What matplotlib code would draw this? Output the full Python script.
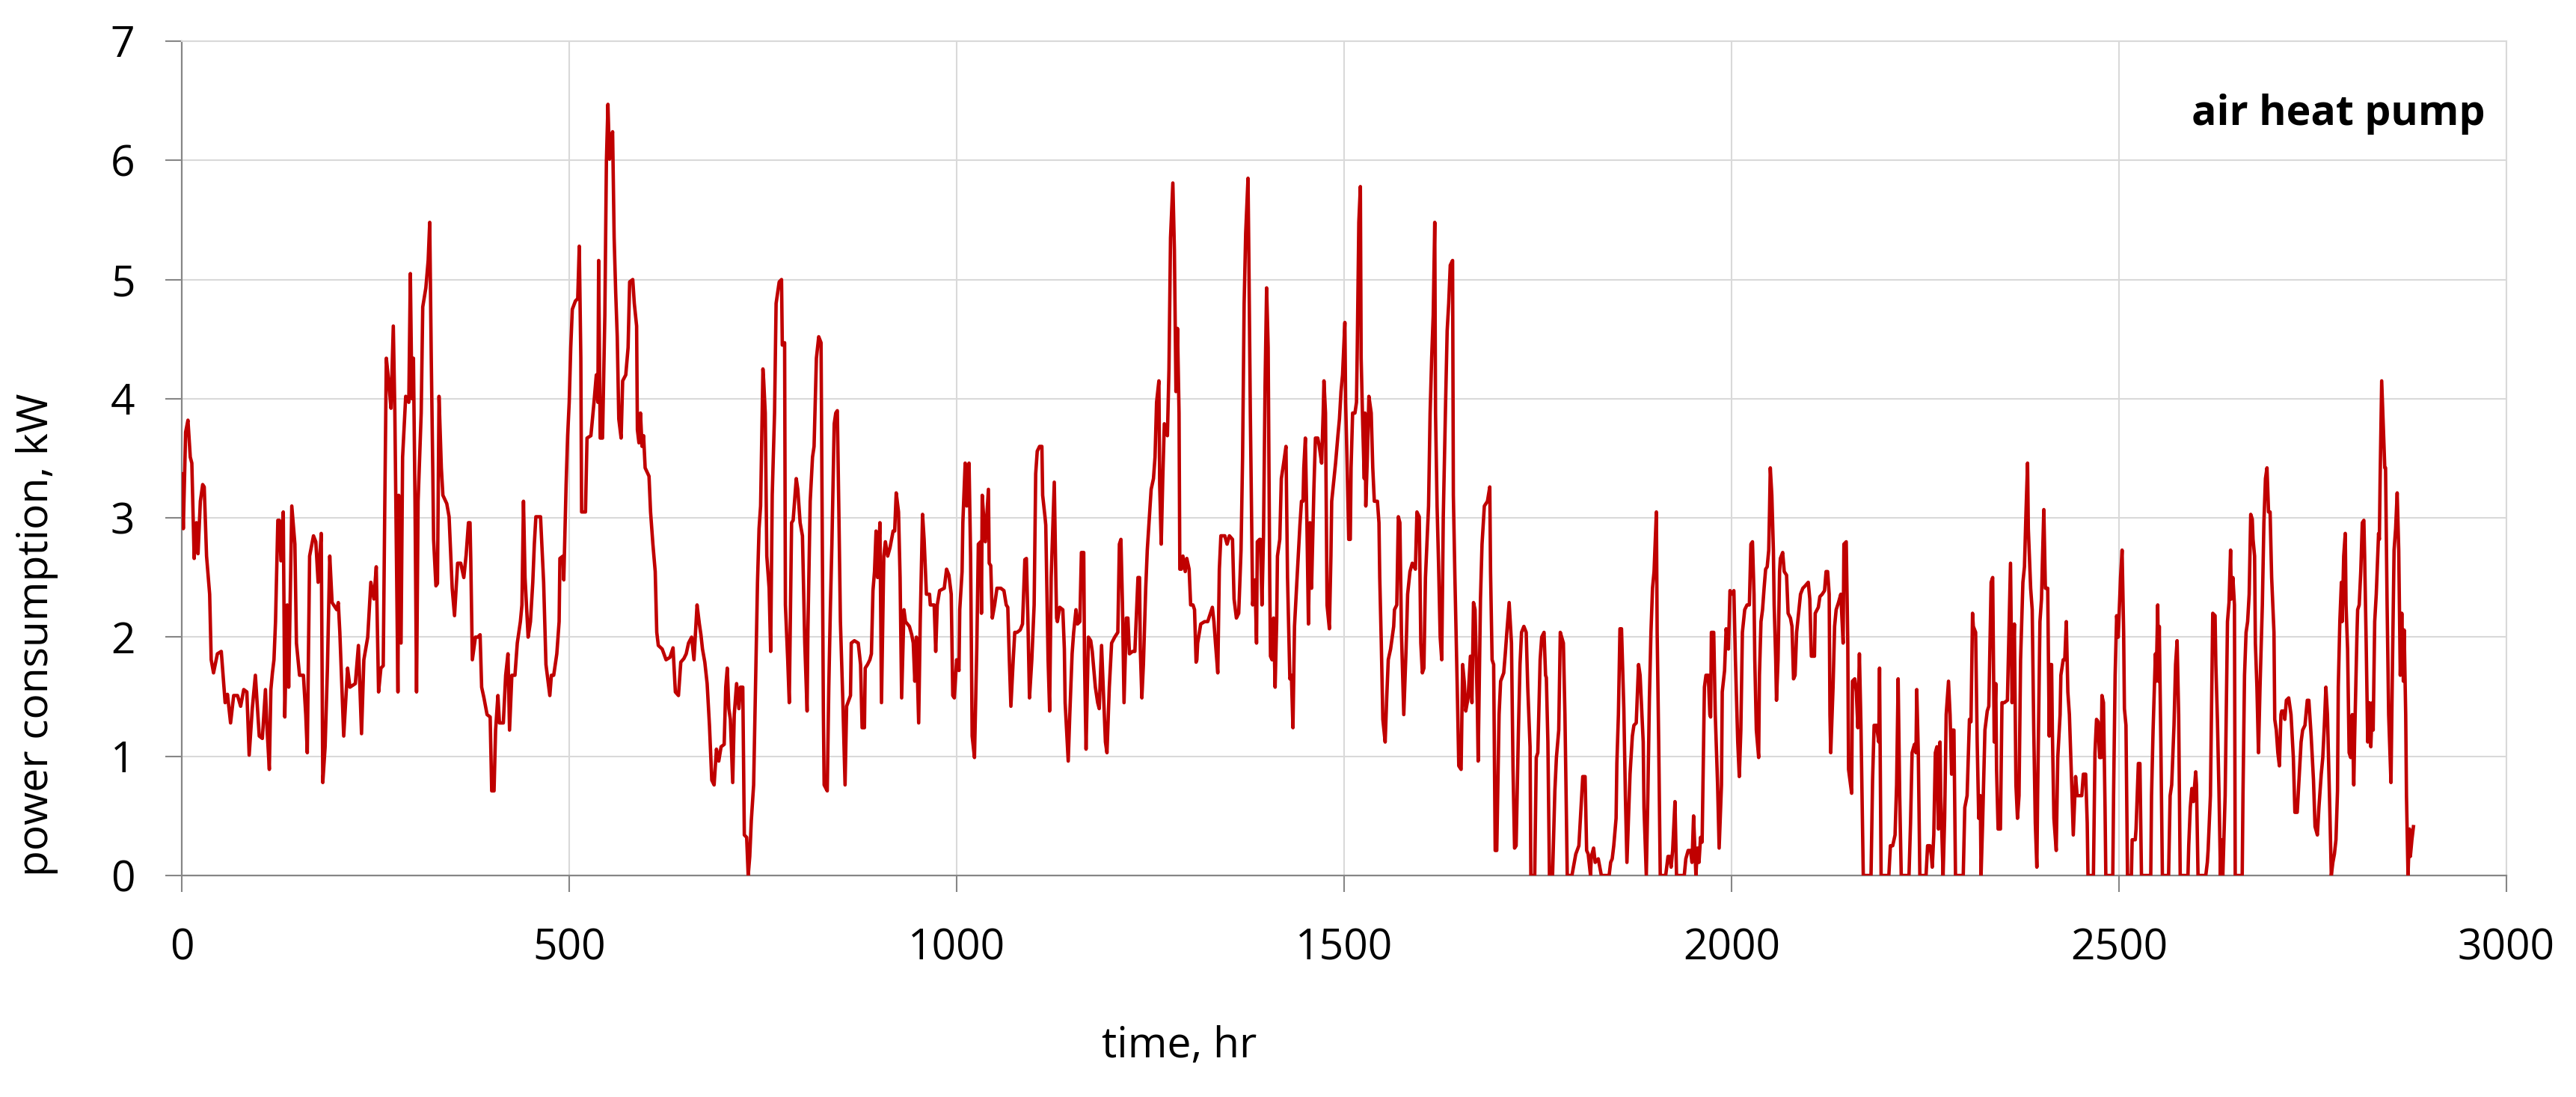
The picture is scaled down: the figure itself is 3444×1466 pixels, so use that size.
from matplotlib import pyplot as plt
import numpy as np

# hourly power readings: (hour, kW)
days_1_20 = [
    (0, 3.37), (2, 2.91), (5, 3.72), (8, 3.82), (11, 3.51), (13, 3.46), (16, 2.66), (19, 2.96),
    (21, 2.70), (24, 3.14), (27, 3.28), (29, 3.26), (32, 2.68), (36, 2.36), (38, 1.81), (41, 1.70),
    (46, 1.86), (51, 1.88), (56, 1.45), (59, 1.52), (63, 1.28), (67, 1.51), (72, 1.51), (76, 1.42),
    (80, 1.56), (84, 1.54), (87, 1.01), (91, 1.40), (95, 1.68), (100, 1.17), (104, 1.15), (108, 1.56),
    (110, 1.24), (113, 0.89), (115, 1.56), (117, 1.70), (119, 1.81), (121, 2.13), (124, 2.98),
    (126, 2.98), (128, 2.64), (131, 3.05), (133, 1.33), (136, 2.27), (138, 1.58), (142, 3.10),
    (146, 2.78), (148, 1.95), (152, 1.68), (157, 1.68), (160, 1.35), (162, 1.03), (165, 2.68),
    (170, 2.85), (173, 2.80), (176, 2.46), (180, 2.87), (182, 0.78), (185, 1.08), (188, 1.74),
    (191, 2.68), (194, 2.29), (200, 2.23), (202, 2.29), (204, 2.04), (209, 1.17), (214, 1.74),
    (217, 1.58), (224, 1.61), (228, 1.93), (232, 1.19), (235, 1.81), (240, 2.00), (244, 2.46),
    (248, 2.32), (251, 2.59), (254, 1.54), (257, 1.74), (260, 1.76), (262, 3.10), (264, 4.34),
    (267, 4.15), (270, 3.92), (271, 4.15), (273, 4.61), (275, 3.88), (279, 1.54), (280, 3.19),
    (283, 1.95), (285, 3.51), (289, 4.02), (293, 3.97), (295, 5.05), (297, 4.00), (299, 4.34),
    (301, 3.14), (303, 1.54), (305, 3.14), (309, 3.88), (311, 4.77), (315, 4.93), (318, 5.16),
    (320, 5.48), (322, 4.34), (324, 3.37), (325, 2.82), (328, 2.43), (330, 2.45), (332, 4.02),
    (335, 3.42), (337, 3.19), (342, 3.12), (345, 3.01), (349, 2.41), (352, 2.18), (356, 2.62),
    (360, 2.62), (364, 2.50), (367, 2.69), (370, 2.96), (372, 2.96), (373, 2.64), (375, 1.81),
    (379, 2.00), (382, 2.00), (385, 2.02), (387, 1.58), (390, 1.49), (394, 1.35), (398, 1.33),
    (400, 0.71), (403, 0.71), (405, 1.22), (408, 1.51), (410, 1.28), (415, 1.28), (418, 1.68),
    (421, 1.86), (423, 1.22), (426, 1.68), (430, 1.68), (433, 1.95), (437, 2.13), (439, 2.27),
    (441, 3.14), (443, 2.50), (447, 2.00), (450, 2.13), (453, 2.46), (455, 2.78), (457, 3.01),
    (463, 3.01), (467, 2.46), (470, 1.77), (475, 1.51), (477, 1.68), (480, 1.68), (484, 1.86),
    (487, 2.13), (488, 2.66), (492, 2.68), (493, 2.48), (496, 3.28), (498, 3.69),
]

days_21_41 = [
    (500, 3.97), (502, 4.43), (504, 4.75), (508, 4.82), (511, 4.84), (513, 5.28), (515, 4.34),
    (516, 3.05), (521, 3.05), (523, 3.67), (528, 3.69), (530, 3.83), (532, 3.97), (535, 4.20),
    (537, 3.97), (538, 5.16), (540, 3.67), (543, 3.67), (546, 4.70), (548, 5.99), (550, 6.47),
    (552, 6.01), (554, 6.17), (556, 6.24), (558, 5.35), (560, 4.89), (562, 4.52), (564, 3.83),
    (567, 3.67), (569, 4.15), (573, 4.20), (576, 4.43), (578, 4.98), (582, 5.00), (584, 4.80),
    (587, 4.61), (588, 3.74), (590, 3.63), (592, 3.88), (594, 3.60), (596, 3.69), (598, 3.42),
    (603, 3.35), (605, 3.05), (608, 2.78), (611, 2.55), (613, 2.04), (615, 1.93), (620, 1.90),
    (625, 1.81), (630, 1.83), (634, 1.91), (637, 1.54), (641, 1.51), (644, 1.79), (648, 1.82),
    (651, 1.86), (654, 1.95), (658, 2.00), (661, 1.81), (663, 2.04), (665, 2.27), (668, 2.11),
    (670, 2.02), (672, 1.90), (675, 1.79), (678, 1.61), (681, 1.26), (684, 0.80), (687, 0.76),
    (690, 1.06), (693, 0.96), (696, 1.08), (700, 1.10), (702, 1.58), (704, 1.74), (706, 1.40),
    (708, 1.31), (711, 0.78), (713, 1.35), (716, 1.61), (719, 1.40), (721, 1.58), (724, 1.58),
    (726, 0.34), (729, 0.32), (731, 0.00), (733, 0.16), (735, 0.46), (738, 0.76), (741, 1.77),
    (743, 2.46), (745, 2.91), (747, 3.10), (750, 4.25), (751, 4.15), (753, 3.88), (755, 2.68),
    (758, 2.41), (760, 1.88), (762, 3.19), (765, 3.88), (767, 4.80), (771, 4.98), (774, 5.00),
    (775, 4.45), (778, 4.47), (779, 2.27), (782, 1.81), (784, 1.45), (787, 2.96), (789, 2.98),
    (793, 3.33), (795, 3.24), (798, 2.96), (801, 2.85), (804, 1.95), (807, 1.38), (808, 2.04),
    (811, 3.14), (814, 3.51), (816, 3.60), (819, 4.34), (822, 4.52), (825, 4.47), (828, 1.38),
    (829, 0.76), (833, 0.71), (835, 1.58), (837, 2.23), (839, 2.78), (842, 3.79), (844, 3.88),
    (846, 3.90), (848, 3.05), (850, 2.13), (853, 1.49), (856, 0.76), (858, 1.42), (863, 1.51),
    (864, 1.95), (868, 1.97), (873, 1.95), (876, 1.77), (878, 1.24), (881, 1.24), (882, 1.74),
    (885, 1.77), (888, 1.81), (890, 1.86), (892, 2.39), (894, 2.55), (896, 2.89), (898, 2.50),
    (901, 2.96), (903, 1.45), (906, 2.68), (908, 2.80), (911, 2.68), (914, 2.75), (918, 2.89),
    (920, 2.89), (922, 3.21), (925, 3.05), (927, 2.50), (929, 1.49), (932, 2.23), (934, 2.13),
    (939, 2.09), (942, 2.02), (944, 1.95), (946, 1.63), (948, 2.00), (951, 1.28), (953, 2.13),
    (956, 3.03), (958, 2.82), (961, 2.36), (965, 2.36), (966, 2.27), (971, 2.27), (973, 1.88),
    (975, 2.27), (978, 2.39), (984, 2.41), (987, 2.57), (990, 2.52),
]

days_42_62 = [
    (993, 2.36), (995, 1.51), (997, 1.49), (1000, 1.81), (1003, 1.72), (1004, 2.23), (1007, 2.55),
    (1008, 2.96), (1011, 3.46), (1013, 3.10), (1016, 3.46), (1018, 2.68), (1020, 1.17), (1023, 0.99),
    (1026, 1.91), (1028, 2.78), (1031, 2.80), (1032, 2.20), (1033, 3.19), (1037, 2.80), (1041, 3.24),
    (1042, 2.62), (1044, 2.60), (1046, 2.16), (1049, 2.27), (1052, 2.41), (1057, 2.41), (1061, 2.39),
    (1064, 2.27), (1066, 2.25), (1068, 1.81), (1070, 1.42), (1073, 1.81), (1075, 2.04), (1078, 2.04),
    (1082, 2.06), (1085, 2.11), (1088, 2.65), (1090, 2.66), (1092, 2.13), (1094, 1.49), (1097, 1.81),
    (1100, 2.27), (1102, 3.37), (1104, 3.56), (1107, 3.60), (1110, 3.60), (1111, 3.19), (1114, 3.01),
    (1115, 2.94), (1118, 1.81), (1120, 1.38), (1122, 2.50), (1124, 2.91), (1126, 3.30), (1128, 2.50),
    (1129, 2.16), (1130, 2.13), (1133, 2.25), (1137, 2.23), (1139, 1.90), (1140, 1.45), (1144, 0.96),
    (1146, 1.35), (1149, 1.86), (1151, 2.04), (1154, 2.23), (1156, 2.11), (1159, 2.13), (1161, 2.71),
    (1164, 2.71), (1165, 1.81), (1167, 1.06), (1170, 2.00), (1173, 1.97), (1175, 1.88), (1179, 1.58),
    (1182, 1.45), (1184, 1.40), (1187, 1.93), (1190, 1.45), (1192, 1.12), (1194, 1.03), (1197, 1.58),
    (1200, 1.95), (1204, 2.00), (1208, 2.04), (1210, 2.78), (1212, 2.82), (1214, 2.27), (1216, 1.45),
    (1219, 2.16), (1221, 2.16), (1223, 1.86), (1227, 1.88), (1230, 1.88), (1234, 2.50), (1236, 2.50),
    (1237, 1.90), (1239, 1.49), (1241, 1.77), (1244, 2.41), (1246, 2.73), (1249, 3.03), (1251, 3.24),
    (1254, 3.33), (1256, 3.51), (1258, 3.97), (1261, 4.15), (1262, 3.28), (1264, 2.78), (1266, 3.33),
    (1268, 3.79), (1272, 3.69), (1274, 4.25), (1276, 5.35), (1279, 5.81), (1281, 5.25), (1283, 4.06),
    (1285, 4.59), (1287, 3.88), (1288, 2.57), (1290, 2.57), (1292, 2.68), (1295, 2.55), (1297, 2.66),
    (1300, 2.57), (1302, 2.27), (1305, 2.27), (1307, 2.23), (1309, 1.79), (1310, 1.81), (1311, 1.95),
    (1315, 2.11), (1320, 2.13), (1324, 2.13), (1330, 2.25), (1332, 2.13), (1334, 1.95), (1337, 1.70),
    (1339, 2.57), (1341, 2.85), (1346, 2.85), (1349, 2.78), (1352, 2.85), (1356, 2.82), (1358, 2.32),
    (1361, 2.16), (1364, 2.20), (1367, 2.73), (1369, 3.51), (1371, 4.80), (1373, 5.39), (1376, 5.85),
    (1377, 5.25), (1379, 3.88), (1381, 2.78), (1382, 2.27), (1385, 2.48), (1387, 1.95), (1388, 2.80),
    (1391, 2.82), (1392, 2.82), (1394, 2.27), (1396, 2.85), (1398, 4.11), (1400, 4.93), (1402, 4.43),
    (1404, 2.50), (1405, 1.84), (1407, 1.81), (1409, 2.16), (1411, 1.58), (1413, 2.13), (1414, 2.68),
    (1417, 2.82), (1419, 3.33), (1422, 3.46), (1425, 3.60), (1427, 2.50), (1430, 1.65), (1432, 1.68),
    (1434, 1.24), (1436, 2.09), (1439, 2.46), (1443, 2.94), (1445, 3.14), (1447, 3.14), (1448, 3.42),
    (1450, 3.67), (1452, 2.96), (1454, 2.11), (1456, 2.96), (1458, 2.41), (1461, 3.24), (1463, 3.67),
    (1466, 3.67), (1468, 3.60), (1471, 3.46), (1473, 3.88), (1474, 4.15), (1476, 3.88), (1478, 2.27),
    (1481, 2.07), (1483, 2.68), (1484, 3.14), (1487, 3.33), (1489, 3.46), (1492, 3.69), (1494, 3.83),
    (1496, 4.06), (1498, 4.20),
]

days_63_83 = [
    (1501, 4.64), (1502, 3.97), (1504, 3.42), (1506, 2.82), (1508, 2.82), (1509, 3.42), (1511, 3.88),
    (1514, 3.88), (1516, 3.97), (1517, 4.43), (1519, 5.48), (1521, 5.78), (1522, 4.34), (1524, 3.79),
    (1526, 3.33), (1527, 3.88), (1528, 3.10), (1530, 3.51), (1532, 4.02), (1535, 3.88), (1537, 3.42),
    (1539, 3.14), (1543, 3.14), (1545, 2.96), (1546, 2.50), (1548, 1.95), (1550, 1.31), (1553, 1.12),
    (1555, 1.49), (1557, 1.81), (1560, 1.90), (1564, 2.09), (1565, 2.23), (1568, 2.27), (1570, 3.01),
    (1572, 2.96), (1574, 2.04), (1577, 1.35), (1580, 1.90), (1582, 2.36), (1585, 2.55), (1588, 2.62),
    (1592, 2.57), (1594, 3.05), (1597, 3.01), (1599, 1.95), (1601, 1.70), (1603, 1.74), (1605, 2.50),
    (1609, 3.10), (1611, 3.88), (1613, 4.34), (1615, 4.70), (1617, 5.48), (1618, 3.88), (1620, 3.10),
    (1622, 2.59), (1624, 2.00), (1626, 1.81), (1628, 3.01), (1631, 3.97), (1633, 4.57), (1635, 4.80),
    (1637, 5.12), (1640, 5.16), (1641, 3.19), (1643, 2.50), (1646, 1.58), (1648, 0.92), (1651, 0.89),
    (1653, 1.77), (1655, 1.63), (1657, 1.38), (1660, 1.49), (1663, 1.84), (1665, 1.45), (1667, 2.29),
    (1669, 2.23), (1672, 1.40), (1673, 0.96), (1676, 2.32), (1678, 2.78), (1681, 3.10), (1685, 3.14),
    (1688, 3.26), (1689, 2.55), (1691, 1.81), (1693, 1.77), (1695, 0.21), (1697, 0.21), (1700, 1.35),
    (1702, 1.63), (1706, 1.70), (1708, 1.86), (1710, 2.04), (1713, 2.29), (1716, 1.95), (1718, 0.89),
    (1720, 0.23), (1722, 0.25), (1725, 1.22), (1727, 1.77), (1729, 2.04), (1732, 2.09), (1735, 2.04),
    (1737, 1.58), (1740, 1.08), (1741, 0.00), (1746, 0.00), (1748, 0.99), (1750, 1.03), (1753, 1.81),
    (1755, 2.00), (1758, 2.04), (1760, 1.68), (1761, 1.66), (1763, 1.12), (1765, 0.00), (1769, 0.00),
    (1772, 0.71), (1774, 0.99), (1777, 1.22), (1779, 2.04), (1783, 1.95), (1785, 1.35), (1788, 0.00),
    (1794, 0.00), (1797, 0.11), (1799, 0.18), (1803, 0.25), (1805, 0.48), (1808, 0.83), (1811, 0.83),
    (1813, 0.21), (1815, 0.18), (1818, 0.00), (1819, 0.16), (1822, 0.23), (1824, 0.11), (1828, 0.14),
    (1832, 0.00), (1842, 0.00), (1844, 0.11), (1846, 0.14), (1848, 0.25), (1851, 0.48), (1852, 0.94),
    (1854, 1.35), (1856, 2.07), (1858, 2.07), (1861, 1.40), (1863, 0.67), (1865, 0.11), (1867, 0.48),
    (1869, 0.85), (1872, 1.17), (1874, 1.26), (1877, 1.28), (1880, 1.77), (1882, 1.68), (1886, 1.12),
    (1887, 0.57), (1890, 0.00), (1892, 0.67), (1894, 1.49), (1896, 2.04), (1898, 2.41), (1900, 2.55),
    (1903, 3.05), (1904, 2.04), (1906, 1.12), (1908, 0.00), (1915, 0.00), (1918, 0.16), (1920, 0.16),
    (1922, 0.07), (1924, 0.21), (1927, 0.62), (1929, 0.00), (1939, 0.00), (1941, 0.14), (1944, 0.21),
    (1947, 0.21), (1949, 0.11), (1951, 0.50), (1954, 0.00), (1956, 0.23), (1958, 0.11), (1960, 0.32),
    (1962, 0.28), (1965, 1.58), (1967, 1.68), (1970, 1.68), (1972, 1.35), (1973, 1.33), (1974, 2.04),
    (1977, 2.04), (1979, 1.35), (1982, 0.76), (1984, 0.23), (1987, 0.76), (1988, 1.54), (1991, 1.72),
    (1993, 2.07), (1996, 1.90),
]

days_84_104 = [
    (1998, 2.39), (2000, 2.36), (2003, 2.39), (2005, 1.81), (2008, 1.12), (2010, 0.83), (2012, 1.22),
    (2014, 2.04), (2017, 2.23), (2020, 2.27), (2023, 2.27), (2025, 2.78), (2027, 2.80), (2029, 2.36),
    (2030, 1.81), (2032, 1.22), (2035, 0.99), (2036, 1.68), (2038, 2.13), (2040, 2.23), (2042, 2.41),
    (2044, 2.57), (2046, 2.59), (2048, 2.73), (2049, 3.05), (2050, 3.42), (2052, 3.19), (2054, 2.73),
    (2055, 2.27), (2057, 1.81), (2058, 1.47), (2060, 1.81), (2062, 2.55), (2063, 2.66), (2066, 2.71),
    (2068, 2.55), (2071, 2.52), (2073, 2.20), (2076, 2.16), (2078, 2.09), (2080, 1.65), (2082, 1.68),
    (2084, 2.04), (2087, 2.23), (2089, 2.36), (2092, 2.41), (2095, 2.43), (2099, 2.46), (2101, 2.32),
    (2103, 1.84), (2107, 1.84), (2108, 2.20), (2112, 2.25), (2114, 2.34), (2117, 2.36), (2120, 2.39),
    (2122, 2.55), (2124, 2.55), (2126, 2.36), (2127, 1.35), (2128, 1.03), (2131, 1.58), (2133, 2.09),
    (2135, 2.23), (2138, 2.29), (2141, 2.36), (2144, 1.95), (2145, 2.78), (2148, 2.80), (2150, 1.95),
    (2151, 0.89), (2155, 0.69), (2156, 1.63), (2159, 1.65), (2161, 1.54), (2163, 1.24), (2165, 1.86),
    (2167, 1.26), (2170, 0.00), (2180, 0.00), (2182, 0.80), (2184, 1.26), (2187, 1.26), (2190, 1.12),
    (2191, 1.74), (2193, 0.00), (2203, 0.00), (2205, 0.25), (2208, 0.25), (2211, 0.34), (2213, 0.76),
    (2215, 1.65), (2217, 0.67), (2219, 0.00), (2229, 0.00), (2231, 0.44), (2233, 1.03), (2236, 1.10),
    (2238, 1.03), (2239, 1.56), (2241, 1.03), (2243, 0.00), (2251, 0.00), (2253, 0.25), (2256, 0.25),
    (2258, 0.16), (2259, 0.07), (2261, 0.34), (2263, 1.03), (2265, 1.08), (2267, 0.39), (2269, 1.12),
    (2270, 0.67), (2273, 0.00), (2275, 0.48), (2277, 1.35), (2280, 1.63), (2282, 1.35), (2284, 0.85),
    (2285, 1.22), (2287, 1.22), (2289, 0.00), (2299, 0.00), (2301, 0.57), (2304, 0.67), (2307, 1.31),
    (2309, 1.29), (2311, 2.20), (2312, 2.09), (2315, 2.04), (2317, 1.12), (2319, 0.48), (2321, 0.67),
    (2322, 0.00), (2324, 0.44), (2327, 1.22), (2330, 1.38), (2332, 1.42), (2335, 2.46), (2337, 2.50),
    (2339, 1.12), (2341, 1.61), (2342, 0.89), (2344, 0.39), (2347, 0.39), (2349, 1.45), (2352, 1.45),
    (2356, 1.47), (2358, 2.04), (2360, 2.62), (2362, 1.45), (2365, 2.11), (2367, 0.76), (2369, 0.48),
    (2371, 0.67), (2373, 1.81), (2376, 2.46), (2378, 2.59), (2380, 3.05), (2382, 3.46), (2383, 2.91),
    (2386, 2.41), (2388, 2.23), (2390, 1.22), (2392, 0.44), (2394, 0.07), (2395, 0.67), (2398, 2.13),
    (2400, 2.32), (2401, 2.59), (2403, 3.07), (2405, 2.41), (2408, 2.41), (2410, 1.17), (2411, 1.77),
    (2413, 1.77), (2414, 1.22), (2416, 0.48), (2419, 0.21), (2421, 0.99), (2424, 1.35), (2425, 1.68),
    (2428, 1.81), (2430, 1.81), (2432, 2.13), (2434, 1.54), (2436, 1.35), (2439, 0.76), (2441, 0.34),
    (2444, 0.83), (2446, 0.67), (2449, 0.67), (2452, 0.67), (2454, 0.85), (2457, 0.85), (2459, 0.44),
    (2460, 0.00), (2467, 0.00), (2469, 1.03), (2471, 1.31), (2473, 1.29), (2475, 0.99), (2477, 0.99),
    (2478, 1.51), (2480, 1.45), (2482, 0.57), (2483, 0.00), (2492, 0.00), (2493, 0.67), (2495, 1.68),
    (2497, 2.18), (2499, 2.00),
]

days_105_120 = [
    (2502, 2.50), (2504, 2.73), (2506, 2.04), (2507, 1.40), (2509, 1.26), (2511, 0.00), (2516, 0.00),
    (2517, 0.30), (2521, 0.30), (2522, 0.39), (2525, 0.94), (2527, 0.94), (2529, 0.00), (2541, 0.00),
    (2542, 0.67), (2544, 1.22), (2547, 1.86), (2548, 1.63), (2550, 2.27), (2551, 1.63), (2552, 2.09),
    (2554, 1.12), (2556, 0.00), (2564, 0.00), (2566, 0.67), (2568, 0.76), (2571, 1.26), (2573, 1.77),
    (2575, 1.97), (2577, 1.35), (2579, 0.00), (2589, 0.00), (2590, 0.25), (2592, 0.57), (2594, 0.73),
    (2596, 0.62), (2599, 0.87), (2600, 0.76), (2602, 0.00), (2612, 0.00), (2614, 0.11), (2615, 0.21),
    (2618, 0.67), (2620, 1.68), (2621, 2.20), (2624, 2.18), (2625, 1.77), (2627, 1.31), (2629, 0.71),
    (2631, 0.00), (2632, 0.30), (2634, 0.00), (2637, 0.67), (2640, 2.13), (2642, 2.29), (2644, 2.73),
    (2645, 2.32), (2647, 2.50), (2649, 2.27), (2650, 0.00), (2659, 0.00), (2660, 0.67), (2662, 1.68),
    (2664, 2.04), (2666, 2.13), (2668, 2.36), (2670, 3.03), (2672, 2.99), (2673, 2.82), (2675, 2.68),
    (2676, 1.95), (2678, 1.58), (2680, 1.03), (2682, 1.58), (2685, 2.27), (2687, 2.96), (2689, 3.33),
    (2691, 3.42), (2693, 3.05), (2695, 3.05), (2697, 2.50), (2700, 2.04), (2701, 1.31), (2703, 1.22),
    (2705, 1.03), (2707, 0.92), (2709, 1.35), (2710, 1.38), (2713, 1.38), (2714, 1.31), (2716, 1.47),
    (2719, 1.49), (2722, 1.35), (2725, 0.99), (2727, 0.53), (2730, 0.53), (2733, 0.89), (2735, 1.12),
    (2737, 1.22), (2740, 1.26), (2743, 1.47), (2745, 1.47), (2748, 1.17), (2751, 0.80), (2753, 0.41),
    (2756, 0.34), (2758, 0.57), (2761, 0.85), (2763, 0.99), (2765, 1.26), (2767, 1.58), (2769, 1.35),
    (2772, 0.57), (2774, 0.00), (2776, 0.11), (2778, 0.18), (2780, 0.30), (2782, 0.71), (2783, 1.58),
    (2785, 2.13), (2787, 2.46), (2788, 2.13), (2790, 2.68), (2792, 2.87), (2793, 2.27), (2795, 1.90),
    (2797, 1.03), (2799, 0.99), (2801, 1.35), (2803, 0.76), (2804, 1.12), (2807, 2.00), (2808, 2.23),
    (2810, 2.27), (2812, 2.55), (2814, 2.96), (2816, 2.98), (2817, 2.68), (2819, 1.95), (2821, 1.12),
    (2823, 1.45), (2825, 1.08), (2827, 1.45), (2828, 1.22), (2830, 2.13), (2832, 2.36), (2835, 2.87),
    (2836, 2.82), (2837, 3.33), (2839, 4.15), (2841, 3.79), (2843, 3.42), (2844, 3.42), (2846, 2.27),
    (2848, 1.35), (2851, 0.78), (2853, 1.81), (2855, 2.73), (2857, 2.91), (2859, 3.21), (2861, 2.73),
    (2863, 1.68), (2865, 2.20), (2867, 1.63), (2868, 2.06), (2870, 1.35), (2871, 0.67), (2873, 0.00),
    (2875, 0.39), (2876, 0.16), (2878, 0.30), (2880, 0.41),
]

x_ticks = [0, 500, 1000, 1500, 2000, 2500, 3000]
y_ticks = [0, 1, 2, 3, 4, 5, 6, 7]

series = np.array(days_1_20 + days_21_41 + days_42_62 + days_63_83 + days_84_104 + days_105_120)
hours = series[:, 0]
power = series[:, 1]

plt.rcParams['font.family'] = 'Open Sans'

W, H = 3444, 1466
fig = plt.figure(figsize=(W / 100, H / 100), dpi=100)
ax = fig.add_axes([243 / W, 1 - 1170 / H, (3351 - 243) / W, (1170 - 55) / H])

ax.plot(hours, power, color='#C00000', linewidth=3.3, zorder=3)

ax.set_xlim(0, 3000)
ax.set_ylim(0, 7)
ax.set_xticks(x_ticks)
ax.set_yticks(y_ticks)
ax.grid(True, color='#d9d9d9', linewidth=1.5, zorder=0)
ax.set_axisbelow(True)

for side in ['left', 'bottom']:
    ax.spines[side].set_color('#868686')
    ax.spines[side].set_linewidth(1.6)
for side in ['top', 'right']:
    ax.spines[side].set_color('#d9d9d9')
    ax.spines[side].set_linewidth(1.5)

ax.tick_params(axis='both', direction='out', length=16, width=1.5,
               color='#868686', labelsize=41, labelcolor='black')
ax.tick_params(axis='x', pad=34)
ax.tick_params(axis='y', pad=29)

fig.text(50 / W, 1 - 848 / H, 'power consumption, kW', rotation=90,
         ha='center', va='center', fontsize=41)
fig.text(1577 / W, 1 - 1398 / H, 'time, hr', ha='center', va='center', fontsize=41)
fig.text(3322 / W, 1 - 167 / H, 'air heat pump', ha='right', va='baseline',
         fontsize=40, fontweight='bold')

fig.savefig('out.png', dpi=100)
